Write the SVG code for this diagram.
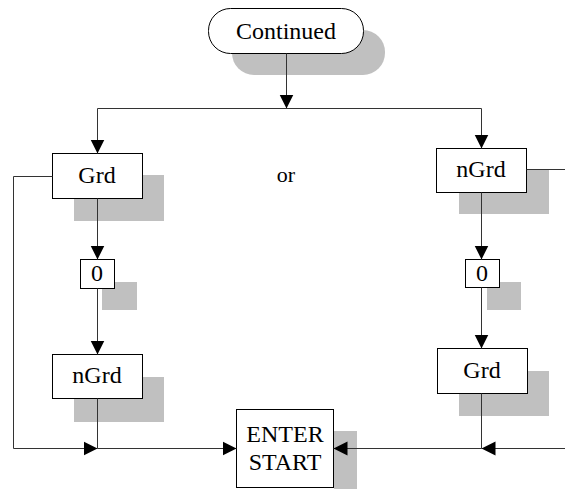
<svg xmlns="http://www.w3.org/2000/svg" width="565" height="489" viewBox="0 0 565 489">
<style>
.sh{fill:#c0c0c0;stroke:none}
.bx{fill:#fff;stroke:#000;stroke-width:1}
.c{fill:none;stroke:#333;stroke-width:1}
.a{marker-end:url(#ah)}
</style>
<defs>
<marker id="ah" markerUnits="userSpaceOnUse" markerWidth="16" markerHeight="16" viewBox="0 0 16 16" refX="14" refY="8" orient="auto">
<path d="M0,1 L14,8 L0,15 Z" fill="#000"/>
</marker>
</defs>
<rect width="565" height="489" fill="#fff"/>
<g id="nodes" font-family="Liberation Serif, serif" font-size="24" text-anchor="middle" fill="#000">
<g id="continued">
<rect class="sh" x="232" y="30" width="153" height="45" rx="22"/>
<rect class="bx" x="208.5" y="8.5" width="155" height="45" rx="22"/>
<text x="286" y="39">Continued</text>
</g>
<g id="or">
<text x="286" y="182" font-size="22">or</text>
</g>
<g id="grd-left">
<rect class="sh" x="74" y="175" width="90" height="46"/>
<rect class="bx" x="52.5" y="153.5" width="90" height="45"/>
<text x="97" y="183">Grd</text>
</g>
<g id="zero-left">
<rect class="sh" x="102" y="282" width="35" height="28"/>
<rect class="bx" x="80.5" y="259.5" width="34" height="29"/>
<text x="97" y="281">0</text>
</g>
<g id="ngrd-left">
<rect class="sh" x="74" y="377" width="90" height="45"/>
<rect class="bx" x="52.5" y="354.5" width="90" height="44"/>
<text x="97" y="383">nGrd</text>
</g>
<g id="ngrd-right">
<rect class="sh" x="459" y="170" width="90" height="44"/>
<rect class="bx" x="436.5" y="148.5" width="90" height="44"/>
<text x="481" y="177">nGrd</text>
</g>
<g id="zero-right">
<rect class="sh" x="487" y="282" width="34" height="28"/>
<rect class="bx" x="465.5" y="259.5" width="34" height="28"/>
<text x="482" y="281">0</text>
</g>
<g id="grd-right">
<rect class="sh" x="459" y="371" width="90" height="45"/>
<rect class="bx" x="437.5" y="348.5" width="90" height="45"/>
<text x="482" y="378">Grd</text>
</g>
<g id="enter-start">
<rect class="sh" x="334" y="431" width="23" height="58"/>
<rect class="bx" x="236.5" y="409.5" width="97" height="78"/>
<text x="285" y="442">ENTER</text>
<text x="285" y="470">START</text>
</g>
</g>
<g id="connectors">
<path class="c a" d="M286.5,53.5 V108.5"/>
<path class="c" d="M97.5,108.5 H481.5"/>
<path class="c a" d="M97.5,108.5 V153.5"/>
<path class="c a" d="M481.5,108.5 V148.5"/>
<path class="c a" d="M97.5,198.5 V259.5"/>
<path class="c a" d="M97.5,288.5 V354.5"/>
<path class="c a" d="M97.5,398.5 V448.5 H236.5"/>
<path class="c a" d="M52.5,176.5 H13.5 V448.5 H97.5"/>
<path class="c a" d="M481.5,192.5 V259.5"/>
<path class="c a" d="M481.5,287.5 V348.5"/>
<path class="c a" d="M481.5,393.5 V448.5 H333.5"/>
<path class="c" d="M526.5,169.5 H565"/>
<path class="c a" d="M565,448.5 H481.5"/>
</g>
</svg>
